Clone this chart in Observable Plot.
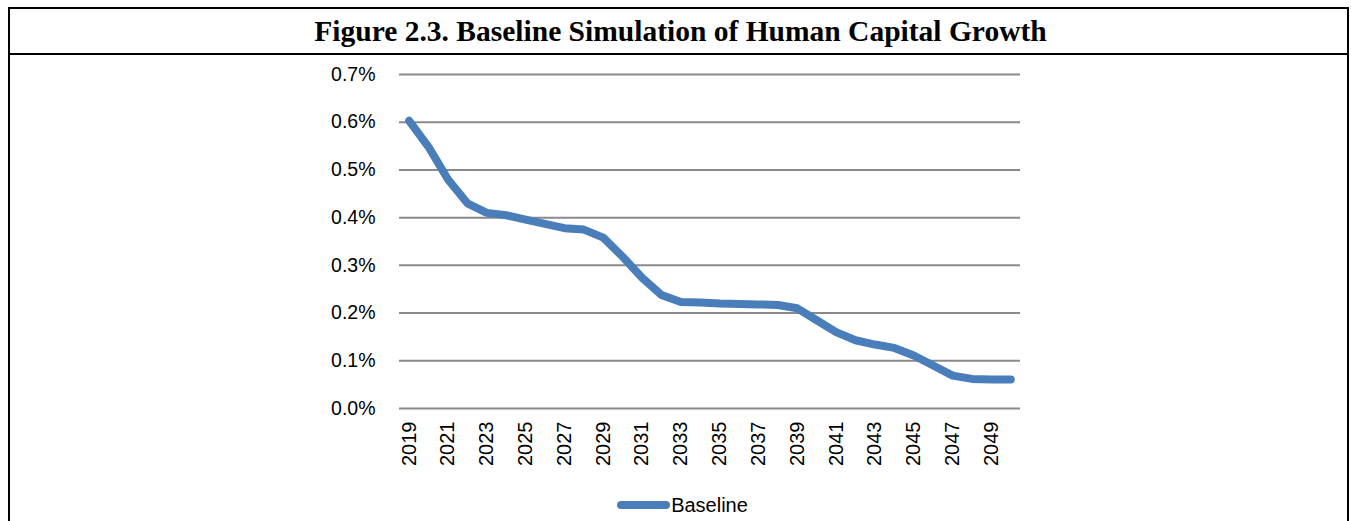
<!DOCTYPE html>
<html>
<head>
<meta charset="utf-8">
<script src="https://cdn.jsdelivr.net/npm/d3@7"></script>
<script src="https://cdn.jsdelivr.net/npm/@observablehq/plot@0.6"></script>
<style>
  html, body { margin: 0; padding: 0; background: #fff; }
  #wrap { position: relative; width: 1351px; height: 521px; overflow: hidden; }
  #frame { position: absolute; left: 8px; top: 7px; width: 1341px; height: 600px;
           border: 2px solid #000; border-bottom: none; box-sizing: border-box; }
  #title { position: absolute; left: 8px; top: 7px; width: 1341px; height: 48px;
           border: 2px solid #000; box-sizing: border-box;
           font-family: "Liberation Serif", "Times New Roman", serif; font-weight: bold;
           font-size: 29.5px; line-height: 45px; text-align: center; color: #000; padding-left: 4px; }
  #chart { position: absolute; left: 0; top: 53px; }
  #legend { position: absolute; left: 7px; width: 1351px; top: 494px; text-align: center;
            font-family: "Liberation Sans", Arial, sans-serif; font-size: 20px; color: #000; }
  #legend .sw { display: inline-block; width: 53px; height: 8px; border-radius: 4px;
                background: #4a7ebb; vertical-align: middle; margin-right: 1px; position: relative; top: -2px; }
</style>
</head>
<body>
<div id="wrap">
  <div id="frame"></div>
  <div id="title">Figure 2.3. Baseline Simulation of Human Capital Growth</div>
  <div id="chart"></div>
  <div id="legend"><span class="sw"></span>Baseline</div>
</div>
<script>
const years = [2019,2020,2021,2022,2023,2024,2025,2026,2027,2028,2029,2030,2031,2032,2033,2034,
               2035,2036,2037,2038,2039,2040,2041,2042,2043,2044,2045,2046,2047,2048,2049,2050];
const baseline = [0.603,0.548,0.480,0.430,0.410,0.405,0.396,0.387,0.378,0.375,0.358,0.318,0.274,0.238,0.223,0.222,
                  0.220,0.219,0.218,0.217,0.210,0.185,0.160,0.143,0.134,0.127,0.111,0.090,0.069,0.062,0.061,0.061];
const xTicks = [2019,2021,2023,2025,2027,2029,2031,2033,2035,2037,2039,2041,2043,2045,2047,2049];
const yTicks = [0,0.1,0.2,0.3,0.4,0.5,0.6,0.7];

const data = years.map((y, i) => ({year: y, value: baseline[i]}));

const chart = Plot.plot({
  width: 1351,
  height: 430,
  marginTop: 21,
  marginBottom: 75,
  marginLeft: 399,
  marginRight: 331,
  style: {fontFamily: '"Liberation Sans", Arial, sans-serif', color: "#000", background: "transparent"},
  x: {type: "point", domain: years, padding: 0.5, round: false},
  y: {domain: [0, 0.7]},
  marks: [
    Plot.ruleY(yTicks, {stroke: "#8a8a8a", strokeWidth: 2}),
    Plot.line(data, {x: "year", y: "value", stroke: "#4a7ebb", strokeWidth: 8,
                     strokeLinecap: "round", strokeLinejoin: "round"}),
    Plot.axisY({ticks: yTicks, tickSize: 0, tickPadding: 24, fontSize: 19.5,
                tickFormat: d => d.toFixed(1) + "%", label: null}),
    Plot.axisX({ticks: xTicks, tickSize: 0, tickPadding: 13, tickRotate: -90, fontSize: 20,
                tickFormat: d => String(d), label: null})
  ]
});
document.getElementById("chart").appendChild(chart);
</script>
</body>
</html>
